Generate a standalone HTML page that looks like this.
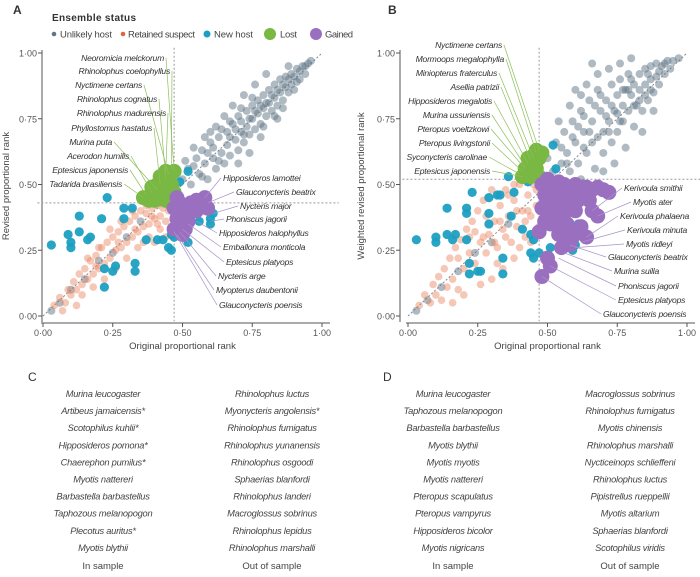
<!DOCTYPE html>
<html><head><meta charset="utf-8">
<style>
body{margin:0;background:#fff;width:700px;height:572px;overflow:hidden;font-family:"Liberation Sans",sans-serif}
svg text{font-family:"Liberation Sans",sans-serif}
.it{font-style:italic;letter-spacing:-0.25px}
</style></head>
<body>
<svg id="fig" width="700" height="572" viewBox="0 0 700 572" xmlns="http://www.w3.org/2000/svg">
<g id="legend">
<text x="52" y="21" font-size="10" font-weight="bold" fill="#333" textLength="84">Ensemble status</text>
<circle cx="54" cy="34" r="2.3" fill="#5f7585"/>
<text x="60" y="37.5" font-size="9.5" fill="#444" textLength="52">Unlikely host</text>
<circle cx="123" cy="34" r="2.3" fill="#e0643c"/>
<text x="128" y="37.5" font-size="9.5" fill="#444" textLength="67">Retained suspect</text>
<circle cx="207" cy="34" r="3.5" fill="#1c9fc2"/>
<text x="214" y="37.5" font-size="9.5" fill="#444" textLength="39">New host</text>
<circle cx="270" cy="34" r="6" fill="#78b843"/>
<text x="280" y="37.5" font-size="9.5" fill="#444" textLength="17">Lost</text>
<circle cx="316" cy="34" r="6" fill="#9b6fc0"/>
<text x="325" y="37.5" font-size="9.5" fill="#444" textLength="28">Gained</text>
</g>
<text x="13" y="14" font-size="12" font-weight="bold" fill="#333">A</text>
<text x="388" y="14" font-size="12" font-weight="bold" fill="#333">B</text>
<text x="28" y="381" font-size="12" fill="#333">C</text>
<text x="383" y="381" font-size="12" fill="#333">D</text>
</svg>
<script>
// ---------- data ----------
const ticks=[0,0.25,0.5,0.75,1];
const tickLabels=["0·00","0·25","0·50","0·75","1·00"];
const greyA=[[0.50,0.52],[0.52,0.56],[0.53,0.50],[0.55,0.60],[0.56,0.54],[0.57,0.63],[0.58,0.58],[0.59,0.52],[0.60,0.66],[0.61,0.60],[0.62,0.56],[0.63,0.68],[0.64,0.62],[0.65,0.58],[0.66,0.70],[0.66,0.65],[0.67,0.61],[0.68,0.73],[0.69,0.67],[0.70,0.63],[0.70,0.76],[0.71,0.70],[0.72,0.66],[0.73,0.78],[0.73,0.72],[0.74,0.69],[0.75,0.80],[0.75,0.75],[0.76,0.71],[0.77,0.82],[0.77,0.77],[0.78,0.73],[0.79,0.84],[0.79,0.79],[0.80,0.76],[0.81,0.86],[0.81,0.81],[0.82,0.78],[0.83,0.88],[0.83,0.83],[0.84,0.80],[0.85,0.90],[0.85,0.85],[0.86,0.82],[0.87,0.91],[0.87,0.87],[0.88,0.85],[0.89,0.92],[0.89,0.88],[0.90,0.86],[0.91,0.94],[0.92,0.90],[0.93,0.95],[0.94,0.92],[0.95,0.96],[0.96,0.97],[0.58,0.68],[0.62,0.72],[0.68,0.80],[0.72,0.84],[0.78,0.68],[0.84,0.75],[0.65,0.76],[0.70,0.58],[0.76,0.88],[0.80,0.92],[0.74,0.62],[0.54,0.64],[0.60,0.70],[0.88,0.95],[0.51,0.59],[0.54,0.57],[0.57,0.53],[0.59,0.62],[0.61,0.64],[0.63,0.59],[0.64,0.71],[0.67,0.68],[0.69,0.71],[0.71,0.74],[0.72,0.69],[0.74,0.75],[0.76,0.78],[0.78,0.80],[0.80,0.81],[0.82,0.84],[0.84,0.86],[0.86,0.88],[0.88,0.90],[0.90,0.91],[0.92,0.93],[0.94,0.95],[0.83,0.76],[0.79,0.72],[0.86,0.79],[0.91,0.89],[0.67,0.74],[0.71,0.79],[0.75,0.83],[0.03,0.02],[0.06,0.05],[0.10,0.10],[0.15,0.14],[0.20,0.21],[0.25,0.24],[0.30,0.30],[0.35,0.36]];
const orangeA=[[0.04,0.04],[0.06,0.07],[0.08,0.05],[0.09,0.10],[0.10,0.08],[0.11,0.13],[0.12,0.10],[0.13,0.16],[0.14,0.12],[0.15,0.18],[0.16,0.14],[0.17,0.21],[0.18,0.16],[0.19,0.23],[0.20,0.18],[0.21,0.26],[0.22,0.20],[0.23,0.28],[0.24,0.22],[0.25,0.30],[0.26,0.25],[0.27,0.32],[0.28,0.26],[0.29,0.34],[0.30,0.28],[0.31,0.36],[0.32,0.30],[0.33,0.38],[0.34,0.32],[0.35,0.40],[0.36,0.34],[0.37,0.39],[0.38,0.35],[0.39,0.41],[0.40,0.37],[0.41,0.42],[0.42,0.38],[0.43,0.41],[0.44,0.36],[0.45,0.40],[0.46,0.33],[0.38,0.30],[0.34,0.26],[0.30,0.22],[0.26,0.18],[0.22,0.14],[0.18,0.11],[0.14,0.08],[0.28,0.36],[0.24,0.33],[0.40,0.28],[0.44,0.30],[0.42,0.33],[0.36,0.28],[0.20,0.26],[0.16,0.22],[0.32,0.40],[0.12,0.04],[0.07,0.02],[0.27,0.28],[0.33,0.33],[0.39,0.38],[0.19,0.19],[0.37,0.42],[0.41,0.35]];
const blueA=[[0.03,0.27],[0.23,0.45],[0.13,0.38],[0.09,0.31],[0.10,0.28],[0.10,0.26],[0.13,0.32],[0.16,0.29],[0.17,0.30],[0.21,0.37],[0.29,0.41],[0.32,0.41],[0.29,0.37],[0.26,0.19],[0.25,0.17],[0.22,0.18],[0.22,0.11],[0.33,0.20],[0.33,0.17],[0.37,0.29],[0.41,0.29],[0.43,0.29],[0.45,0.26],[0.46,0.25],[0.47,0.30],[0.52,0.28],[0.49,0.51],[0.52,0.55],[0.61,0.39],[0.56,0.36],[0.60,0.35],[0.60,0.37],[0.46,0.31]];
const greenA=[[0.36,0.45],[0.38,0.44],[0.40,0.47],[0.41,0.50],[0.42,0.53],[0.44,0.55],[0.45,0.52],[0.43,0.48],[0.45,0.45],[0.46,0.50],[0.47,0.55],[0.47,0.47],[0.39,0.49],[0.44,0.44],[0.42,0.45],[0.46,0.43],[0.43,0.51],[0.40,0.44]];
const purpleA=[[0.47,0.41],[0.48,0.37],[0.47,0.33],[0.49,0.35],[0.50,0.39],[0.49,0.43],[0.50,0.31],[0.53,0.43],[0.55,0.44],[0.57,0.42],[0.58,0.45],[0.59,0.41],[0.55,0.40],[0.52,0.36],[0.51,0.33],[0.48,0.45]];
const greyB=[[0.47,0.56],[0.50,0.60],[0.52,0.55],[0.53,0.66],[0.55,0.58],[0.56,0.70],[0.57,0.62],[0.58,0.55],[0.59,0.74],[0.60,0.66],[0.61,0.58],[0.62,0.78],[0.63,0.70],[0.64,0.62],[0.65,0.82],[0.66,0.74],[0.66,0.66],[0.67,0.56],[0.68,0.86],[0.69,0.78],[0.70,0.70],[0.70,0.62],[0.71,0.82],[0.72,0.74],[0.73,0.88],[0.73,0.66],[0.74,0.78],[0.75,0.84],[0.75,0.70],[0.76,0.90],[0.77,0.80],[0.77,0.74],[0.78,0.86],[0.79,0.92],[0.79,0.78],[0.80,0.84],[0.81,0.88],[0.81,0.72],[0.82,0.80],[0.83,0.92],[0.83,0.86],[0.84,0.78],[0.85,0.94],[0.85,0.88],[0.86,0.82],[0.87,0.95],[0.87,0.90],[0.88,0.85],[0.89,0.96],[0.89,0.91],[0.90,0.88],[0.91,0.95],[0.92,0.92],[0.93,0.97],[0.94,0.94],[0.95,0.97],[0.97,0.98],[0.58,0.80],[0.62,0.84],[0.68,0.92],[0.72,0.94],[0.78,0.64],[0.84,0.70],[0.64,0.88],[0.70,0.55],[0.76,0.96],[0.80,0.98],[0.74,0.58],[0.54,0.74],[0.60,0.86],[0.88,0.78],[0.66,0.96],[0.62,0.52],[0.55,0.64],[0.59,0.68],[0.61,0.72],[0.63,0.76],[0.65,0.70],[0.67,0.80],[0.69,0.84],[0.71,0.76],[0.73,0.80],[0.75,0.77],[0.77,0.86],[0.79,0.86],[0.81,0.80],[0.83,0.82],[0.85,0.84],[0.87,0.86],[0.90,0.93],[0.92,0.96],[0.57,0.58],[0.63,0.64],[0.68,0.68],[0.72,0.70],[0.76,0.74],[0.80,0.90],[0.86,0.92],[0.03,0.02],[0.07,0.06],[0.12,0.11],[0.18,0.17],[0.24,0.24],[0.30,0.28],[0.36,0.35]];
const orangeB=[[0.04,0.04],[0.06,0.08],[0.08,0.05],[0.09,0.12],[0.10,0.08],[0.11,0.15],[0.12,0.06],[0.13,0.18],[0.14,0.11],[0.15,0.22],[0.16,0.14],[0.17,0.26],[0.18,0.10],[0.19,0.29],[0.20,0.18],[0.21,0.33],[0.22,0.24],[0.23,0.36],[0.24,0.20],[0.25,0.40],[0.26,0.28],[0.27,0.44],[0.28,0.24],[0.29,0.31],[0.30,0.48],[0.31,0.36],[0.32,0.26],[0.33,0.42],[0.34,0.33],[0.35,0.48],[0.36,0.38],[0.37,0.28],[0.38,0.44],[0.39,0.34],[0.40,0.50],[0.41,0.40],[0.42,0.30],[0.43,0.46],[0.44,0.38],[0.45,0.50],[0.46,0.42],[0.47,0.34],[0.48,0.47],[0.38,0.22],[0.34,0.18],[0.30,0.14],[0.26,0.12],[0.22,0.30],[0.18,0.22],[0.28,0.38],[0.24,0.32],[0.40,0.26],[0.44,0.28],[0.42,0.36],[0.36,0.46],[0.32,0.20],[0.20,0.08],[0.16,0.05],[0.46,0.48],[0.38,0.50],[0.27,0.30],[0.31,0.28],[0.35,0.30],[0.39,0.40],[0.43,0.40],[0.33,0.36]];
const blueB=[[0.03,0.29],[0.10,0.30],[0.10,0.28],[0.14,0.41],[0.14,0.31],[0.16,0.29],[0.17,0.31],[0.21,0.41],[0.21,0.39],[0.23,0.47],[0.21,0.29],[0.22,0.20],[0.22,0.16],[0.25,0.17],[0.26,0.17],[0.29,0.45],[0.32,0.46],[0.33,0.46],[0.29,0.39],[0.29,0.35],[0.34,0.22],[0.34,0.16],[0.38,0.47],[0.37,0.38],[0.41,0.33],[0.44,0.31],[0.45,0.29],[0.44,0.24],[0.45,0.22],[0.47,0.24],[0.51,0.26],[0.36,0.53],[0.43,0.51],[0.52,0.65],[0.53,0.56],[0.59,0.25],[0.60,0.27],[0.61,0.33],[0.61,0.35]];
const greenB=[[0.41,0.53],[0.42,0.56],[0.44,0.58],[0.45,0.61],[0.46,0.63],[0.47,0.60],[0.46,0.56],[0.44,0.53],[0.47,0.53],[0.43,0.60],[0.48,0.62],[0.45,0.55]];
const purpleB=[[0.48,0.50],[0.50,0.52],[0.52,0.50],[0.54,0.51],[0.56,0.50],[0.58,0.49],[0.60,0.50],[0.62,0.49],[0.64,0.49],[0.66,0.48],[0.68,0.49],[0.70,0.48],[0.72,0.47],[0.49,0.46],[0.51,0.45],[0.53,0.46],[0.55,0.45],[0.57,0.44],[0.59,0.45],[0.61,0.44],[0.63,0.45],[0.48,0.41],[0.50,0.40],[0.52,0.41],[0.54,0.40],[0.56,0.39],[0.58,0.41],[0.60,0.40],[0.49,0.36],[0.51,0.35],[0.53,0.36],[0.55,0.37],[0.57,0.35],[0.66,0.40],[0.68,0.38],[0.54,0.31],[0.56,0.29],[0.58,0.33],[0.59,0.30],[0.55,0.26],[0.58,0.27],[0.50,0.22],[0.51,0.19],[0.48,0.15],[0.62,0.34],[0.64,0.30],[0.47,0.32],[0.65,0.44],[0.62,0.46]];
// annotations: [name, label anchor x(px), label y(px), target x value, target y value]
const labelsAL=[["Neoromicia melckorum",164,61,0.47,0.55],["Rhinolophus coelophyllus",170,74,0.46,0.56],["Nyctimene certans",142,88,0.45,0.54],["Rhinolophus cognatus",157,102,0.44,0.52],["Rhinolophus madurensis",166,116,0.44,0.55],["Phyllostomus hastatus",152,131,0.42,0.50],["Murina puta",112,145,0.41,0.48],["Acerodon humilis",129,159,0.39,0.47],["Eptesicus japonensis",128,173,0.37,0.46],["Tadarida brasiliensis",122,187,0.36,0.45]];
const labelsAR=[["Hipposideros lamottei",223,181,0.58,0.45],["Glauconycteris beatrix",236,195,0.59,0.43],["Nycteris major",240,209,0.61,0.39],["Phoniscus jagorii",226,222,0.60,0.36],["Hipposideros halophyllus",219,236,0.55,0.36],["Emballonura monticola",223,250,0.52,0.35],["Eptesicus platyops",226,265,0.50,0.33],["Nycteris arge",218,279,0.49,0.32],["Myopterus daubentonii",216,293,0.48,0.31],["Glauconycteris poensis",219,308,0.47,0.32]];
const labelsBL=[["Nyctimene certans",502,48,0.47,0.63],["Mormoops megalophylla",504,62,0.46,0.62],["Miniopterus fraterculus",497,76,0.45,0.60],["Asellia patrizii",499,90,0.44,0.59],["Hipposideros megalotis",492,104,0.43,0.58],["Murina ussuriensis",490,118,0.42,0.57],["Pteropus voeltzkowi",489,132,0.42,0.56],["Pteropus livingstonii",490,146,0.41,0.55],["Syconycteris carolinae",487,160,0.40,0.54],["Eptesicus japonensis",490,174,0.41,0.53]];
const labelsBR=[["Kerivoula smithii",624,191,0.66,0.40],["Myotis ater",633,205,0.68,0.38],["Kerivoula phalaena",620,219,0.64,0.30],["Kerivoula minuta",627,233,0.62,0.28],["Myotis ridleyi",626,247,0.60,0.26],["Glauconycteris beatrix",608,260,0.58,0.27],["Murina suilla",614,274,0.56,0.24],["Phoniscus jagorii",618,289,0.54,0.22],["Eptesicus platyops",618,303,0.51,0.19],["Glauconycteris poensis",603,317,0.48,0.15]];
const listC1=["Murina leucogaster","Artibeus jamaicensis*","Scotophilus kuhlii*","Hipposideros pomona*","Chaerephon pumilus*","Myotis nattereri","Barbastella barbastellus","Taphozous melanopogon","Plecotus auritus*","Myotis blythii"];
const listC2=["Rhinolophus luctus","Myonycteris angolensis*","Rhinolophus fumigatus","Rhinolophus yunanensis","Rhinolophus osgoodi","Sphaerias blanfordi","Rhinolophus landeri","Macroglossus sobrinus","Rhinolophus lepidus","Rhinolophus marshalli"];
const listD1=["Murina leucogaster","Taphozous melanopogon","Barbastella barbastellus","Myotis blythii","Myotis myotis","Myotis nattereri","Pteropus scapulatus","Pteropus vampyrus","Hipposideros bicolor","Myotis nigricans"];
const listD2=["Macroglossus sobrinus","Rhinolophus fumigatus","Myotis chinensis","Rhinolophus marshalli","Nycticeinops schlieffeni","Rhinolophus luctus","Pipistrellus rueppellii","Myotis altarium","Sphaerias blanfordi","Scotophilus viridis"];
const thresholdsA=[0.47,0.43];
const thresholdsB=[0.47,0.52];

// ---------- drawing ----------
const NS="http://www.w3.org/2000/svg";
const svg=document.getElementById('fig');
function mk(tag,attrs,parent){const e=document.createElementNS(NS,tag);for(const k in attrs)e.setAttribute(k,attrs[k]);(parent||svg).appendChild(e);return e;}
function panel(p){
  const g=mk('g',{});
  
  
  const sx=v=>p.x0+v*(p.x1-p.x0);
  const sy=v=>316-v*263;
  const ya=mk('line',{x1:p.ax,y1:50,x2:p.ax,y2:322,stroke:'#555','stroke-width':1},g);
  
  
  const xa=mk('line',{x1:p.x0-2,y1:323,x2:p.x1+8,y2:323,stroke:'#555','stroke-width':1},g);
  
  
  ticks.forEach((t,i)=>{
    mk('line',{x1:p.ax-4,y1:sy(t),x2:p.ax,y2:sy(t),stroke:'#555'},g);
    const yl=mk('text',{x:p.ax-5,y:sy(t)+3.5,'font-size':9,fill:'#555','text-anchor':'end'},g);
    yl.textContent=tickLabels[i];
    
    
    mk('line',{x1:sx(t),y1:323,x2:sx(t),y2:327,stroke:'#555'},g);
    const xl=mk('text',{x:sx(t),y:336,'font-size':9,fill:'#555','text-anchor':'middle'},g);
    xl.textContent=tickLabels[i];
    
    
  });
  const xt=mk('text',{x:(p.x0+p.x1)/2,y:349,'font-size':9.5,fill:'#444','text-anchor':'middle'},g);
  xt.textContent='Original proportional rank';
  
  
  const yt=mk('text',{x:0,y:0,'font-size':9.5,fill:'#444','text-anchor':'middle',transform:`translate(${p.ytx},186) rotate(-90)`},g);
  yt.textContent=p.ytitle;
  
  
  mk('line',{x1:sx(0),y1:sy(0),x2:sx(1),y2:sy(1),stroke:'#888','stroke-dasharray':'2,2'},g);
  mk('line',{x1:sx(p.th[0]),y1:sy(1.02),x2:sx(p.th[0]),y2:sy(-0.02),stroke:'#999','stroke-dasharray':'2,2'},g);
  mk('line',{x1:sx(-0.02),y1:sy(p.th[1]),x2:sx(1.06),y2:sy(p.th[1]),stroke:'#999','stroke-dasharray':'2,2'},g);
  const series=[[p.grey,'#5f7585',4,0.5,'unlikely-host-point'],[p.orange,'#e9825e',3.8,0.45,'retained-suspect-point'],[p.blue,'#1c9fc2',4.6,0.95,'new-host-point'],[p.green,'#78b843',7.5,1,'lost-point'],[p.purple,'#9b6fc0',7.5,1,'gained-point']];
  series.forEach(s=>{
    s[0].forEach(d=>{
      const c=mk('circle',{cx:sx(d[0]),cy:sy(d[1]),r:s[2],fill:s[1],'fill-opacity':s[3]},g);
      
      
    });
  });
  p.ll.forEach(l=>{
    mk('line',{x1:l[1]+2,y1:l[2]-3,x2:sx(l[3]),y2:sy(l[4]),stroke:'#8dc05a','stroke-width':0.7},g);
    const t=mk('text',{x:l[1],y:l[2],'font-size':8.6,fill:'#333','text-anchor':'end',class:'it'},g);
    t.textContent=l[0];
    
    
  });
  p.rl.forEach(l=>{
    mk('line',{x1:l[1]-2,y1:l[2]-3,x2:sx(l[3]),y2:sy(l[4]),stroke:'#a792c8','stroke-width':0.7},g);
    const t=mk('text',{x:l[1],y:l[2],'font-size':8.6,fill:'#333','text-anchor':'start',class:'it'},g);
    t.textContent=l[0];
    
    
  });
}
panel({id:'panel-a',x0:43,x1:322,ax:42,ytx:9,ytitle:'Revised proportional rank',th:thresholdsA,grey:greyA,orange:orangeA,blue:blueA,green:greenA,purple:purpleA,ll:labelsAL,rl:labelsAR});
panel({id:'panel-b',x0:408,x1:687,ax:400,ytx:364,ytitle:'Weighted revised proportional rank',th:thresholdsB,grey:greyB,orange:orangeB,blue:blueB,green:greenB,purple:purpleB,ll:labelsBL,rl:labelsBR});
function list(arr,cx,footer,name){
  arr.forEach((s,i)=>{
    const t=mk('text',{x:cx,y:397+i*17.1,'font-size':9.3,fill:'#444','text-anchor':'middle',class:'it'});
    t.textContent=s;
    
    
  });
  const f=mk('text',{x:cx,y:569,'font-size':9.5,fill:'#444','text-anchor':'middle'});
  f.textContent=footer;
  
  
}
list(listC1,103,'In sample','c-in-sample');
list(listC2,272,'Out of sample','c-out-of-sample');
list(listD1,453,'In sample','d-in-sample');
list(listD2,630,'Out of sample','d-out-of-sample');
</script>
</body></html>
